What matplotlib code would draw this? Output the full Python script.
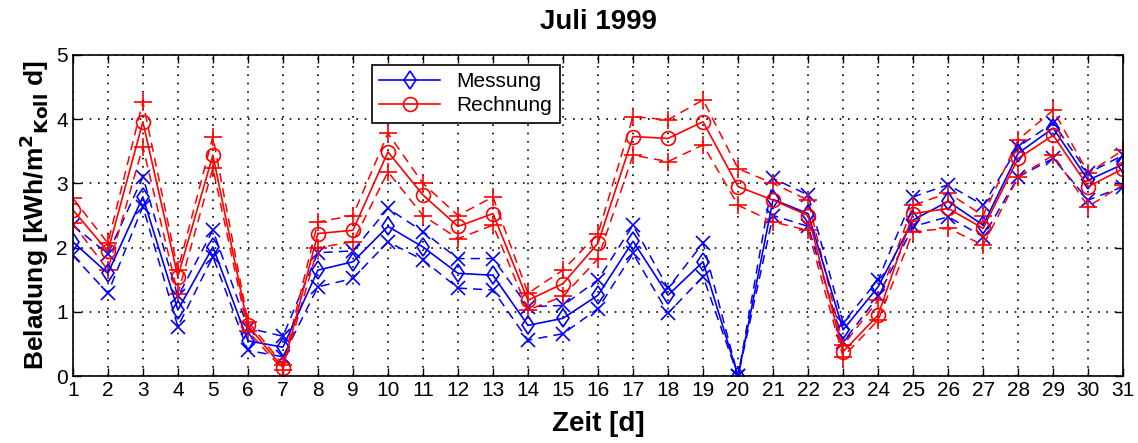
import matplotlib
matplotlib.use("Agg")
import matplotlib.pyplot as plt

plt.rcParams['font.family'] = ['Liberation Sans', 'DejaVu Sans']

# Tageswerte Juli 1999
days = list(range(1, 32))

# Messung (blau): Mittelwert, obere und untere Grenze
mess = [2.09, 1.60, 2.79, 1.03, 2.01, 0.55, 0.45, 1.65, 1.78, 2.33, 2.01, 1.60, 1.57, 0.79, 0.90, 1.26,
        2.10, 1.26, 1.78, 0.00, 2.75, 2.53, 0.72, 1.39, 2.43, 2.72, 2.35, 3.47, 3.86, 3.05, 3.30]
mess_hi = [2.35, 1.90, 3.10, 1.24, 2.27, 0.75, 0.62, 1.92, 1.95, 2.61, 2.25, 1.83, 1.83, 1.08, 1.10, 1.50,
           2.35, 1.37, 2.07, 0.00, 3.08, 2.82, 0.83, 1.50, 2.79, 2.98, 2.66, 3.57, 3.94, 3.16, 3.44]
mess_lo = [1.88, 1.29, 2.64, 0.77, 1.86, 0.40, 0.30, 1.39, 1.52, 2.09, 1.81, 1.37, 1.34, 0.56, 0.66, 1.05,
           1.91, 0.98, 1.55, 0.00, 2.50, 2.33, 0.53, 1.24, 2.33, 2.48, 2.17, 3.10, 3.39, 2.74, 2.95]

# Rechnung (rot): Mittelwert, obere und untere Grenze
rech = [2.59, 1.94, 3.96, 1.55, 3.44, 0.79, 0.13, 2.22, 2.27, 3.49, 2.82, 2.33, 2.53, 1.18, 1.44, 2.07,
        3.73, 3.70, 3.96, 2.95, 2.74, 2.50, 0.38, 0.95, 2.53, 2.61, 2.30, 3.39, 3.75, 2.95, 3.23]
rech_hi = [2.77, 2.07, 4.27, 1.65, 3.73, 0.85, 0.18, 2.40, 2.50, 3.78, 3.00, 2.50, 2.79, 1.29, 1.65, 2.22,
           4.04, 3.99, 4.30, 3.23, 3.00, 2.74, 0.48, 1.18, 2.66, 2.85, 2.50, 3.68, 4.14, 3.16, 3.52]
rech_lo = [2.38, 1.65, 3.57, 1.28, 3.24, 0.70, 0.10, 2.00, 2.09, 3.18, 2.50, 2.14, 2.35, 1.03, 1.24, 1.83,
           3.44, 3.34, 3.60, 2.66, 2.40, 2.27, 0.30, 0.87, 2.25, 2.30, 2.04, 3.10, 3.44, 2.64, 2.98]

fig = plt.figure(figsize=(11.38, 4.43), dpi=100)
ax = fig.add_axes([0.064, 0.151, 0.923, 0.725])

blue = '#0000ff'
red = '#ff0000'

# Grenzen (gestrichelt)
for vals in (mess_hi, mess_lo):
    ax.plot(days, vals, color=blue, linestyle='--', linewidth=1.1, marker='x',
            markersize=10, markeredgewidth=1.2, dashes=(6, 4))
for vals in (rech_hi, rech_lo):
    ax.plot(days, vals, color=red, linestyle='--', linewidth=1.1, marker='+',
            markersize=13, markeredgewidth=1.2, dashes=(6, 4))

# Mittelwerte
ax.plot(days, mess, color=blue, linewidth=1.2, marker='d', markersize=9.5,
        markerfacecolor='none', markeredgewidth=1.2, label='Messung')
ax.plot(days, rech, color=red, linewidth=1.2, marker='o', markersize=10,
        markerfacecolor='none', markeredgewidth=1.2, label='Rechnung')

ax.set_xlim(1, 31)
ax.set_ylim(0, 5)
ax.set_xticks(days)
ax.set_yticks(range(0, 6))
ax.tick_params(direction='in', top=True, right=True, labelsize=15, length=6, width=1)
ax.grid(True, color='black', linestyle=(0, (1, 4)), linewidth=1.2)
for sp in ax.spines.values():
    sp.set_linewidth(1.2)

ax.set_title('Juli 1999', fontsize=20, fontweight='bold', pad=19)
ax.set_xlabel('Zeit [d]', fontsize=20, fontweight='bold', labelpad=8)
ax.set_ylabel(r'Beladung [kWh/m$\mathbf{^2}$$\mathbf{_{Koll}}$ d]', fontsize=19, fontweight='bold', labelpad=4)

leg = ax.legend(loc='upper left', bbox_to_anchor=(0.285, 0.969), borderaxespad=0, fontsize=15,
                fancybox=False, framealpha=1, edgecolor='black', handlelength=2.9, borderpad=0.35,
                labelspacing=0.25, handletextpad=0.8)
leg.get_frame().set_linewidth(1.2)

fig.savefig('out.png', dpi=100)
